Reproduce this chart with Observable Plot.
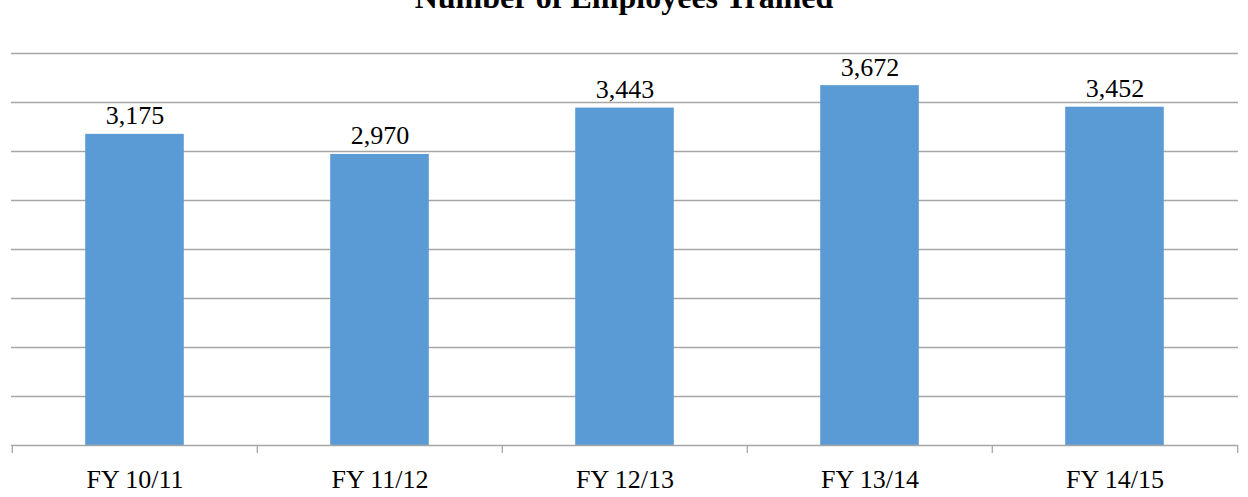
<!DOCTYPE html>
<html>
<head>
<meta charset="utf-8">
<script src="https://cdn.jsdelivr.net/npm/d3@7"></script>
<script src="https://cdn.jsdelivr.net/npm/@observablehq/plot@0.6"></script>
<style>
  html, body { margin: 0; padding: 0; background: #fff; overflow: hidden; }
  #wrap { position: relative; width: 1248px; height: 497px; }
  #title { position: absolute; left: 0; top: -19px; width: 1248px; text-align: center;
    font: bold 32px/32px "Liberation Serif", "Times New Roman", serif; color: #000; z-index: 2; }
  #chart { position: absolute; left: 0; top: 0; }
  #chart svg text { font-family: "Liberation Serif", "Times New Roman", serif; }
</style>
</head>
<body>
<div id="wrap">
  <div id="title">Number of Employees Trained</div>
  <div id="chart"></div>
</div>
<script>
const years = ["FY 10/11", "FY 11/12", "FY 12/13", "FY 13/14", "FY 14/15"];
const trained = [3175, 2970, 3443, 3672, 3452];
const gridValues = [500, 1000, 1500, 2000, 2500, 3000, 3500, 4000];

const data = years.map((y, i) => ({year: y, value: trained[i]}));

const W = 1248, H = 497, mL = 11, mR = 10, mT = 53, mB = 52;
const step = (W - mL - mR) / years.length;
const barW = 99;
const inset = (step - barW) / 2;
const serif = '"Liberation Serif", "Times New Roman", serif';

const chart = Plot.plot({
  width: W,
  height: H,
  marginTop: mT,
  marginBottom: mB,
  marginLeft: mL,
  marginRight: mR,
  style: {fontFamily: serif, color: "#000", background: "#fff", overflow: "visible"},
  x: {type: "band", domain: years, padding: 0, label: null},
  y: {domain: [0, 4000], axis: null},
  marks: [
    Plot.ruleY(gridValues, {stroke: "#a6a6a6", strokeWidth: 1.3, strokeOpacity: 1}),
    Plot.barY(data, {x: "year", y: "value", fill: "#5b9bd5", insetLeft: inset, insetRight: inset}),
    Plot.ruleY([0], {stroke: "#a6a6a6", strokeWidth: 1.3, strokeOpacity: 1}),
    Plot.ruleX(years, {x: d => d, y1: 0, y2: 0, dx: -step / 2, insetBottom: -8, stroke: "#a6a6a6", strokeWidth: 1.3, strokeOpacity: 1}),
    Plot.ruleX(years.slice(-1), {x: d => d, y1: 0, y2: 0, dx: step / 2, insetBottom: -8, stroke: "#a6a6a6", strokeWidth: 1.3, strokeOpacity: 1}),
    Plot.text(data, {x: "year", y: "value", text: d => d3.format(",")(d.value), lineAnchor: "bottom", dy: -10, fontSize: 26, fontFamily: serif, fill: "#000"}),
    Plot.axisX({tickSize: 0, tickPadding: 24, fontSize: 26, fontFamily: serif, label: null, fill: "#000"})
  ]
});
document.getElementById("chart").appendChild(chart);
</script>
</body>
</html>
